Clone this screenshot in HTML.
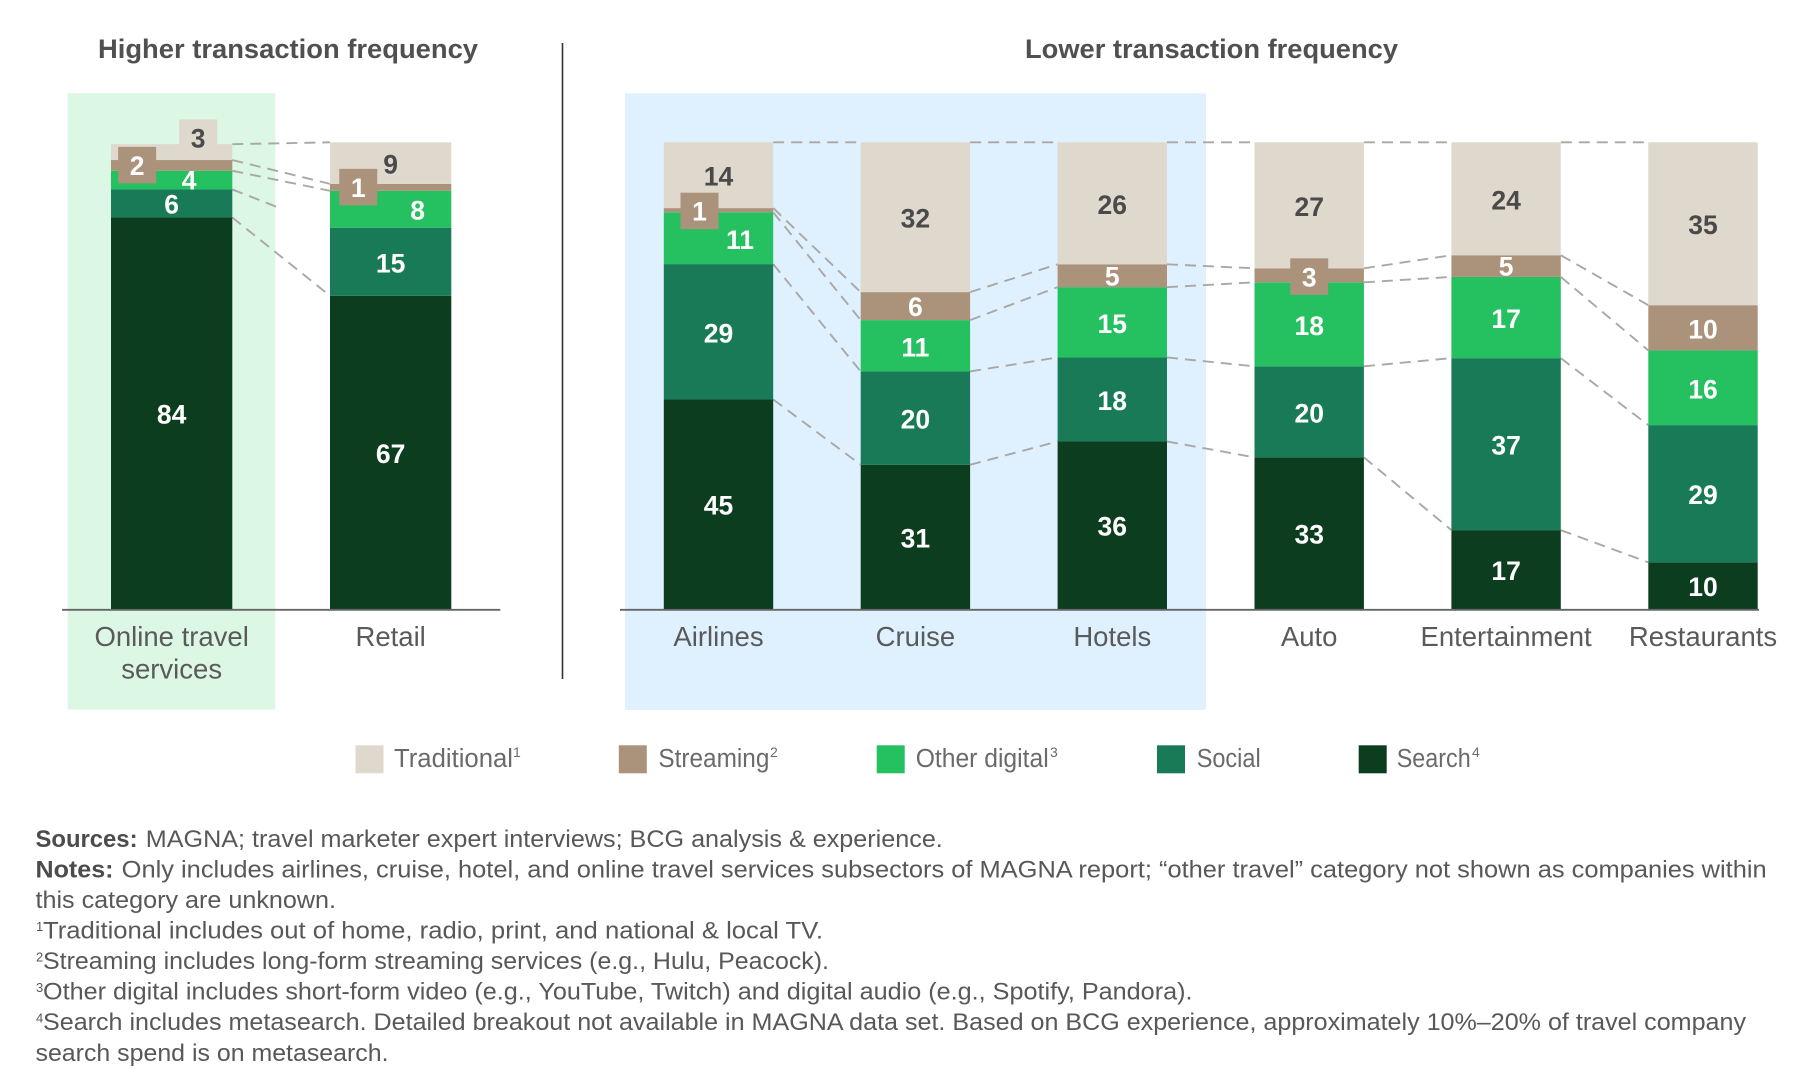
<!DOCTYPE html>
<html lang="en">
<head>
<meta charset="utf-8">
<title>Ad spend mix by transaction frequency</title>
<style>
  html, body { margin: 0; padding: 0; background: #fff; }
  svg { display: block; }
  text { font-family: "Liberation Sans", sans-serif; }
  .title { font-size: 27px; font-weight: 700; fill: #505050; }
  .legend { font-size: 25.5px; fill: #6a6a6a; }
  .legend-sup { font-size: 14px; fill: #6a6a6a; }
  .note { font-size: 24px; fill: #585858; }
  .note-bold { font-size: 24px; font-weight: 700; fill: #4c4c4c; }
  .note-sup { font-size: 13px; fill: #585858; }
</style>
</head>
<body>
<svg id="chart" xmlns="http://www.w3.org/2000/svg" width="1798" height="1078" viewBox="0 0 1798 1078">
  <rect x="67.7" y="93.3" width="207.6" height="616.2" fill="#dcf7e4"/>
  <rect x="625" y="93.3" width="581" height="616.7" fill="#dff0ff"/>
  <text class="title" x="98" y="58" textLength="380" lengthAdjust="spacingAndGlyphs">Higher transaction frequency</text>
  <text class="title" x="1025" y="58" textLength="373" lengthAdjust="spacingAndGlyphs">Lower transaction frequency</text>
  <line x1="562.5" y1="43" x2="562.5" y2="679" stroke="#333" stroke-width="1.6"/>

  <g id="marks"></g>

  <g>
    <g>
      <rect x="355.5" y="745.3" width="28" height="28" fill="#dfd8cd"/>
      <text class="legend" x="394" y="767" textLength="119" lengthAdjust="spacingAndGlyphs">Traditional</text>
      <text class="legend-sup" x="513" y="757">1</text>
    </g>
    <g>
      <rect x="618.8" y="745.3" width="28" height="28" fill="#ab927b"/>
      <text class="legend" x="658.4" y="767" textLength="111" lengthAdjust="spacingAndGlyphs">Streaming</text>
      <text class="legend-sup" x="770" y="757">2</text>
    </g>
    <g>
      <rect x="876.7" y="745.3" width="28" height="28" fill="#25c05f"/>
      <text class="legend" x="915.7" y="767" textLength="133" lengthAdjust="spacingAndGlyphs">Other digital</text>
      <text class="legend-sup" x="1050" y="757">3</text>
    </g>
    <g>
      <rect x="1157" y="745.3" width="28" height="28" fill="#197a58"/>
      <text class="legend" x="1196.7" y="767" textLength="64" lengthAdjust="spacingAndGlyphs">Social</text>
    </g>
    <g>
      <rect x="1358.7" y="745.3" width="28" height="28" fill="#0d3d1f"/>
      <text class="legend" x="1396.7" y="767" textLength="74" lengthAdjust="spacingAndGlyphs">Search</text>
      <text class="legend-sup" x="1472" y="757">4</text>
    </g>
  </g>

  <g>
    <text class="note-bold" x="35.5" y="847" textLength="102" lengthAdjust="spacingAndGlyphs">Sources:</text>
    <text class="note" x="145.8" y="847" textLength="797" lengthAdjust="spacingAndGlyphs">MAGNA; travel marketer expert interviews; BCG analysis &amp; experience.</text>
    <text class="note-bold" x="35.5" y="877.5" textLength="78" lengthAdjust="spacingAndGlyphs">Notes:</text>
    <text class="note" x="121.7" y="877.5" textLength="1645" lengthAdjust="spacingAndGlyphs">Only includes airlines, cruise, hotel, and online travel services subsectors of MAGNA report; “other travel” category not shown as companies within</text>
    <text class="note" x="35.5" y="908" textLength="300.5" lengthAdjust="spacingAndGlyphs">this category are unknown.</text>
    <text class="note-sup" x="36" y="931">1</text>
    <text class="note" x="43" y="938.5" textLength="780" lengthAdjust="spacingAndGlyphs">Traditional includes out of home, radio, print, and national &amp; local TV.</text>
    <text class="note-sup" x="36" y="961.5">2</text>
    <text class="note" x="43" y="969" textLength="786" lengthAdjust="spacingAndGlyphs">Streaming includes long-form streaming services (e.g., Hulu, Peacock).</text>
    <text class="note-sup" x="36" y="992">3</text>
    <text class="note" x="43" y="999.5" textLength="1149.5" lengthAdjust="spacingAndGlyphs">Other digital includes short-form video (e.g., YouTube, Twitch) and digital audio (e.g., Spotify, Pandora).</text>
    <text class="note-sup" x="36" y="1022.5">4</text>
    <text class="note" x="43" y="1030" textLength="1703" lengthAdjust="spacingAndGlyphs">Search includes metasearch. Detailed breakout not available in MAGNA data set. Based on BCG experience, approximately 10%–20% of travel company</text>
    <text class="note" x="35.5" y="1061" textLength="353" lengthAdjust="spacingAndGlyphs">search spend is on metasearch.</text>
  </g>

<script>
// ---- Data (share of spend, %; printed labels are these values rounded) ----
const higherCategories = ["Online travel services", "Retail"];
const lowerCategories = ["Airlines", "Cruise", "Hotels", "Auto", "Entertainment", "Restaurants"];
const categories = higherCategories.concat(lowerCategories);
const seriesNames = ["search", "social", "other-digital", "streaming", "traditional"];
const searchValues = [83.9, 67.1, 44.9, 30.9, 35.9, 32.5, 16.9, 10.0];
const socialValues = [6.0, 14.6, 29.0, 20.0, 18.0, 19.5, 36.85, 29.4];
const otherDigitalValues = [4.0, 7.9, 11.1, 11.0, 15.06, 18.0, 17.4, 16.0];
const streamingValues = [2.3, 1.49, 0.9, 6.0, 4.9, 3.0, 4.65, 9.7];
const traditionalValues = [3.4, 8.9, 14.1, 32.1, 26.14, 27.0, 24.2, 34.9];
const seriesValues = [searchValues, socialValues, otherDigitalValues, streamingValues, traditionalValues];

// ---- Styling and layout ----
const seriesColors = ["#0d3d1f", "#197a58", "#25c05f", "#ab927b", "#dfd8cd"];
const labelColors = ["#ffffff", "#ffffff", "#ffffff", "#ffffff", "#4a4a4a"];
const baselineY = 609;
const pixelsPerPercent = 4.667;
const groups = [
  { categories: higherCategories, start: 0, firstX: 111, pitch: 219, barWidth: 121.3, axisFrom: 62, axisTo: 500.3 },
  { categories: lowerCategories, start: 2, firstX: 663.8, pitch: 196.9, barWidth: 109.4, axisFrom: 620, axisTo: 1759 }
];
// Manual label nudges for cramped segments, keyed "seriesIndex|categoryIndex".
const labelNudges = {
  "4|0": { dx: 26.5, dy: -15.2, box: true },
  "3|0": { dx: -34.5, dy: -1, box: true },
  "2|0": { dx: 17.5, dy: -1 },
  "1|0": { dx: 0, dy: -0.5 },
  "3|1": { dx: -32.4, dy: -1, box: true },
  "2|1": { dx: 27, dy: -0.2 },
  "3|2": { dx: -19, dy: 0, box: true },
  "2|2": { dx: 21.5, dy: 0.5 },
  "3|3": { dx: 0, dy: -0.5 },
  "3|4": { dx: 0, dy: -0.5 },
  "3|5": { dx: 0, dy: 0.5, box: true },
  "3|6": { dx: 0, dy: -1 }
};
const truncatedConnector = { group: 0, gap: 0, series: 1, fraction: 0.47 };

const SVG_NS = "http://www.w3.org/2000/svg";
const marks = document.getElementById("marks");

function yScale(value) {
  return baselineY - value * pixelsPerPercent;
}
function barLeft(group, indexInGroup) {
  return group.firstX + indexInGroup * group.pitch;
}
function stackTop(seriesIndex, categoryIndex) {
  let total = 0;
  for (let s = 0; s <= seriesIndex; s++) total += seriesValues[s][categoryIndex];
  return yScale(total);
}
function slug(text) {
  return text.toLowerCase().replace(/\s+/g, "-");
}

const barLayer = document.createElementNS(SVG_NS, "g");


const connectorLayer = document.createElementNS(SVG_NS, "g");


const boxLayer = document.createElementNS(SVG_NS, "g");


const axisLayer = document.createElementNS(SVG_NS, "g");


const labelLayer = document.createElementNS(SVG_NS, "g");


marks.appendChild(connectorLayer);
marks.appendChild(barLayer);
marks.appendChild(axisLayer);
marks.appendChild(boxLayer);
marks.appendChild(labelLayer);

groups.forEach(function (group, groupIndex) {
  const axis = document.createElementNS(SVG_NS, "line");
  
  
  axis.setAttribute("x1", group.axisFrom);
  axis.setAttribute("x2", group.axisTo);
  axis.setAttribute("y1", baselineY + 0.8);
  axis.setAttribute("y2", baselineY + 0.8);
  axis.setAttribute("stroke", "#666666");
  axis.setAttribute("stroke-width", "1.8");
  axisLayer.appendChild(axis);

  group.categories.forEach(function (category, i) {
    const c = group.start + i;
    const left = barLeft(group, i);
    const center = left + group.barWidth / 2;

    seriesValues.forEach(function (values, s) {
      const top = stackTop(s, c);
      const bottom = s === 0 ? baselineY : stackTop(s - 1, c);

      const seg = document.createElementNS(SVG_NS, "rect");
      
      
      seg.setAttribute("x", left);
      seg.setAttribute("y", top);
      seg.setAttribute("width", group.barWidth);
      seg.setAttribute("height", bottom - top);
      seg.setAttribute("fill", seriesColors[s]);
      barLayer.appendChild(seg);

      const nudge = labelNudges[s + "|" + c] || { dx: 0, dy: 0 };
      const labelX = center + nudge.dx;
      const labelCenterY = (top + bottom) / 2 + 1 + nudge.dy;

      if (nudge.box) {
        const box = document.createElementNS(SVG_NS, "rect");
        
        
        box.setAttribute("x", labelX - 19);
        box.setAttribute("y", labelCenterY - 18.5);
        box.setAttribute("width", 38);
        box.setAttribute("height", 36.5);
        box.setAttribute("fill", seriesColors[s]);
        boxLayer.appendChild(box);
      }

      const label = document.createElementNS(SVG_NS, "text");
      
      
      label.setAttribute("x", labelX);
      label.setAttribute("y", labelCenterY + 9.5);
      label.setAttribute("text-anchor", "middle");
      label.setAttribute("font-size", "26.5");
      label.setAttribute("font-weight", "700");
      label.setAttribute("fill", labelColors[s]);
      label.textContent = String(Math.round(values[c]));
      labelLayer.appendChild(label);

      if (i < group.categories.length - 1) {
        const nextLeft = barLeft(group, i + 1);
        const nextTop = stackTop(s, c + 1);
        const isCut = groupIndex === truncatedConnector.group && i === truncatedConnector.gap && s === truncatedConnector.series;
        const t = isCut ? truncatedConnector.fraction : 1;
        const x1 = left + group.barWidth;
        const connector = document.createElementNS(SVG_NS, "line");
        
        
        connector.setAttribute("x1", x1);
        connector.setAttribute("y1", top);
        connector.setAttribute("x2", x1 + (nextLeft - x1) * t);
        connector.setAttribute("y2", top + (nextTop - top) * t);
        connector.setAttribute("stroke", "#aaa8a5");
        connector.setAttribute("stroke-width", "1.9");
        connector.setAttribute("stroke-dasharray", "11 7");
        connectorLayer.appendChild(connector);
      }
    });

    const words = category === "Online travel services" ? ["Online travel", "services"] : [category];
    words.forEach(function (line, lineIndex) {
      const tick = document.createElementNS(SVG_NS, "text");
      
      
      tick.setAttribute("x", center);
      tick.setAttribute("y", 646 + lineIndex * 32.7);
      tick.setAttribute("text-anchor", "middle");
      tick.setAttribute("font-size", "27.5");
      tick.setAttribute("fill", "#5a5a5a");
      tick.textContent = line;
      labelLayer.appendChild(tick);
    });
  });
});
</script>
</svg>
</body>
</html>
